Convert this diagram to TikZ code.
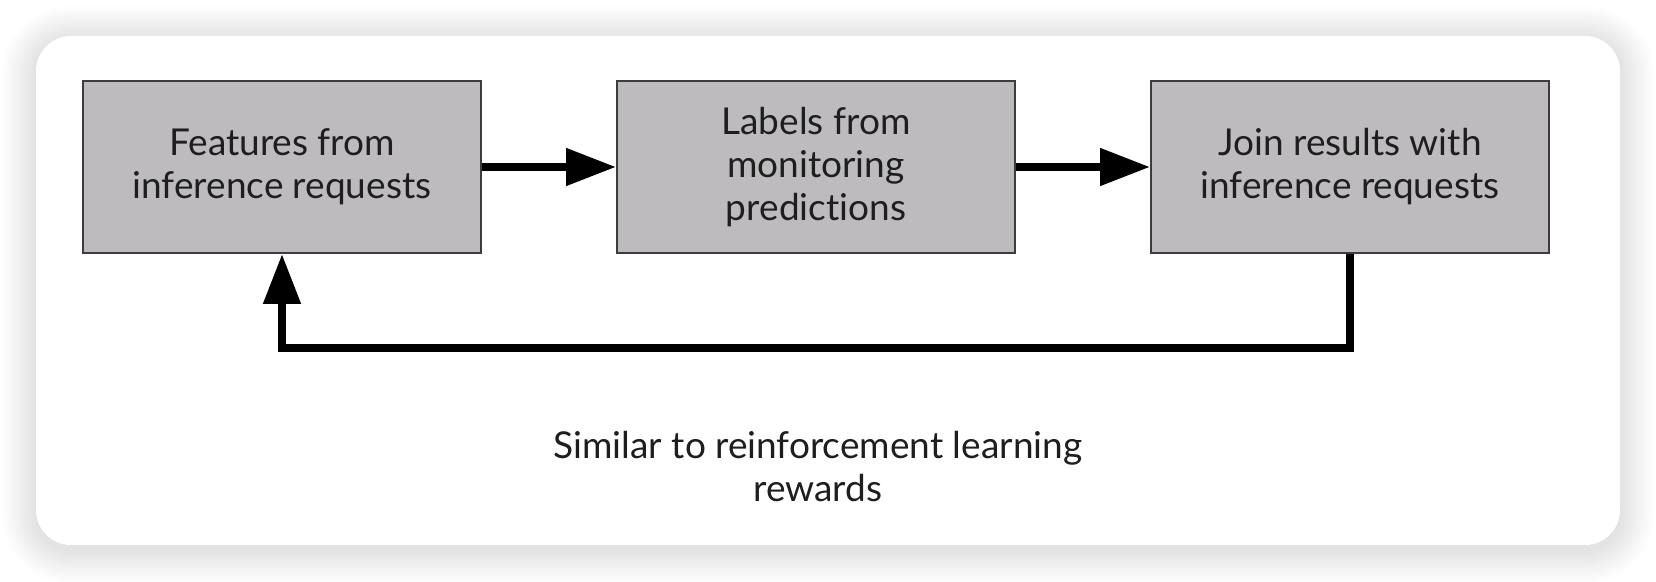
\documentclass[tikz,border=0pt]{standalone}
\usepackage{fontspec}
\setmainfont{Lato}[Ligatures=NoCommon]
\usetikzlibrary{arrows.meta,positioning}
\definecolor{boxgray}{HTML}{BDBBBE}
\definecolor{boxline}{HTML}{3C3C3C}
\definecolor{inktext}{HTML}{1E1E1E}

\begin{document}
\begin{tikzpicture}[x=0.5pt, y=-0.5pt,
  stage/.style={draw=boxline, line width=1pt, fill=boxgray, text=inktext,
    minimum width=199pt, minimum height=86pt, inner sep=0pt, align=center,
    font=\fontsize{18.5}{21.5}\selectfont},
  flow/.style={line width=4pt, line join=miter, -{Triangle[length=25pt,width=18pt]}}]
    % page and card
    \fill[white] (0,0) rectangle (1656,582);
    \useasboundingbox (0,0) rectangle (1656,582);
    \foreach \s in {1,...,14}
      \fill[black, opacity=0.008, rounded corners=17.5pt+1.2pt*\s]
        (36-2.4*\s,40-2.4*\s) rectangle (1620+2.4*\s,549+2.4*\s);
    \fill[white, rounded corners=17.5pt] (36,36) rectangle (1620,545);

    % stages
    \node[stage] (feat) at (282,167) {Features from\\inference requests};
    \node[stage, right=67pt of feat] (lbl) {Labels from\\monitoring\\predictions};
    \node[stage, right=67pt of lbl] (join) {Join results with\\inference requests};

    % connectors
    \draw[flow] (feat) -- (lbl);
    \draw[flow] (lbl) -- (join);
    \draw[flow] (join.south) -- ++(0,94) -| (feat.south);

    \node[text=inktext, align=center, font=\fontsize{18.5}{21.5}\selectfont]
      (note) at (818,467) {Similar to reinforcement learning\\rewards};
\end{tikzpicture}
\end{document}
